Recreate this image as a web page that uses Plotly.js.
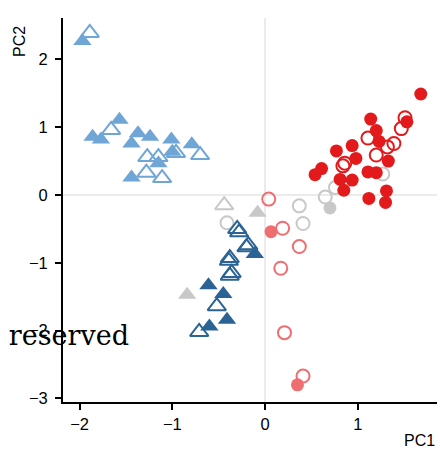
<!DOCTYPE html>
<html>
<head>
<meta charset="utf-8">
<script src="https://cdn.plot.ly/plotly-3.0.1.min.js"></script>
<style>html,body{margin:0;padding:0;background:#fff;}#chart{width:440px;height:449px;}</style>
</head>
<body>
<div id="chart"></div>
<script>
// Light blue triangles
const lbFilledX = [-1.97, -1.86, -1.77, -1.57, -1.37, -1.44, -1.24, -1.01, -1.00, -0.79, -1.15, -1.44];
const lbFilledY = [2.27, 0.86, 0.82, 1.11, 0.91, 0.76, 0.86, 0.82, 0.64, 0.75, 0.47, 0.26];
const lbOpenX = [-1.89, -1.66, -0.96, -0.70, -1.27, -1.15, -1.28, -1.11];
const lbOpenY = [2.39, 0.96, 0.62, 0.59, 0.56, 0.56, 0.33, 0.25];
// Dark blue triangles
const dbFilledX = [-0.11, -0.61, -0.45, -0.41, -0.60];
const dbFilledY = [-0.87, -1.33, -1.46, -1.84, -1.94];
const dbOpenX = [-0.30, -0.28, -0.18, -0.20, -0.38, -0.39, -0.36, -0.38, -0.52, -0.71];
const dbOpenY = [-0.50, -0.55, -0.74, -0.77, -0.93, -0.97, -1.15, -1.19, -1.64, -2.02];
// Grey
const gTriOpenX = [-0.44];
const gTriOpenY = [-0.15];
const gTriFilledX = [-0.08, -0.84];
const gTriFilledY = [-0.26, -1.47];
const gCircOpenX = [-0.41, 0.37, 0.41, 0.65, 0.76, 1.27];
const gCircOpenY = [-0.41, -0.16, -0.42, -0.03, 0.11, 0.31];
const gCircFilledX = [0.70];
const gCircFilledY = [-0.19];
// Pink circles
const pFilledX = [0.065, 0.35];
const pFilledY = [-0.54, -2.80];
const pOpenX = [0.04, 0.19, 0.37, 0.17, 0.21, 0.41];
const pOpenY = [-0.06, -0.49, -0.76, -1.08, -2.03, -2.67];
// Red circles
const rFilledX = [1.68, 1.14, 1.20, 1.23, 0.77, 0.94, 0.98, 1.33, 0.61, 0.54, 0.81, 0.94, 1.11, 1.20, 0.85, 1.31, 1.12, 1.30, 1.53];
const rFilledY = [1.49, 1.12, 0.95, 0.79, 0.65, 0.73, 0.54, 0.50, 0.39, 0.30, 0.23, 0.22, 0.34, 0.33, 0.07, 0.06, -0.05, -0.11, 1.08];
const rOpenX = [1.51, 1.47, 1.11, 1.39, 1.32, 1.20, 0.86, 0.84];
const rOpenY = [1.14, 0.98, 0.84, 0.76, 0.71, 0.59, 0.47, 0.43];

const cLB = '#6fa6d6', cDB = '#2b6494', cG = '#c8c8c8', cP = '#ef6f71', cR = '#e31a1c';
const triSize = 16, circSize = 13;

function tr(x, y, color, symbol, size) {
  const open = symbol.indexOf('open') >= 0;
  return {
    type: 'scatter', mode: 'markers', x: x, y: y, hoverinfo: 'none', showlegend: false,
    marker: { symbol: symbol, size: size, color: color, line: { width: open ? 2 : 0, color: color } }
  };
}

const data = [
  tr(gCircOpenX, gCircOpenY, cG, 'circle-open', circSize),
  tr(gCircFilledX, gCircFilledY, cG, 'circle', circSize),
  tr(gTriOpenX, gTriOpenY, cG, 'triangle-up-open', triSize),
  tr(gTriFilledX, gTriFilledY, cG, 'triangle-up', triSize),
  tr(lbFilledX, lbFilledY, cLB, 'triangle-up', triSize),
  tr(lbOpenX, lbOpenY, cLB, 'triangle-up-open', triSize),
  tr(dbFilledX, dbFilledY, cDB, 'triangle-up', triSize),
  tr(dbOpenX, dbOpenY, cDB, 'triangle-up-open', triSize),
  tr(pFilledX, pFilledY, cP, 'circle', circSize),
  tr(pOpenX, pOpenY, cP, 'circle-open', circSize),
  tr(rFilledX, rFilledY, cR, 'circle', circSize),
  tr(rOpenX, rOpenY, cR, 'circle-open', circSize)
];

const axisCommon = {
  showgrid: false, zeroline: true, zerolinecolor: '#ebebeb', zerolinewidth: 2,
  showline: true, linecolor: '#000', linewidth: 2, mirror: false,
  ticks: 'outside', ticklen: 6, tickwidth: 2, tickcolor: '#000',
  tickfont: { family: 'Liberation Sans, Arial, sans-serif', size: 16.5, color: '#000' },
  dtick: 1, fixedrange: true
};

const layout = {
  width: 440, height: 449,
  margin: { l: 63, r: 3, t: 18, b: 47 },
  paper_bgcolor: '#fff', plot_bgcolor: '#fff',
  xaxis: Object.assign({}, axisCommon, { range: [-2.179, 1.855], tick0: 0 }),
  yaxis: Object.assign({}, axisCommon, { range: [-3.053, 2.611], tick0: 0, ticklabelstandoff: 4 }),
  annotations: [
    { text: 'PC2', xref: 'paper', yref: 'paper', x: -0.118, y: 0.94, textangle: -90, showarrow: false,
      font: { family: 'Liberation Sans, Arial, sans-serif', size: 16, color: '#000' }, xanchor: 'center', yanchor: 'middle' },
    { text: 'PC1', xref: 'paper', yref: 'paper', x: 1.0, y: -0.1, showarrow: false,
      font: { family: 'Liberation Sans, Arial, sans-serif', size: 16, color: '#000' }, xanchor: 'right', yanchor: 'middle' },
    { text: 'All rights reserved', xref: 'paper', yref: 'paper', x: 0.182, y: 0.172, showarrow: false,
      font: { family: 'DejaVu Serif, serif', size: 27, color: '#000' }, xanchor: 'right', yanchor: 'middle' }
  ]
};

Plotly.newPlot('chart', data, layout, { staticPlot: true, displayModeBar: false });
</script>
</body>
</html>
